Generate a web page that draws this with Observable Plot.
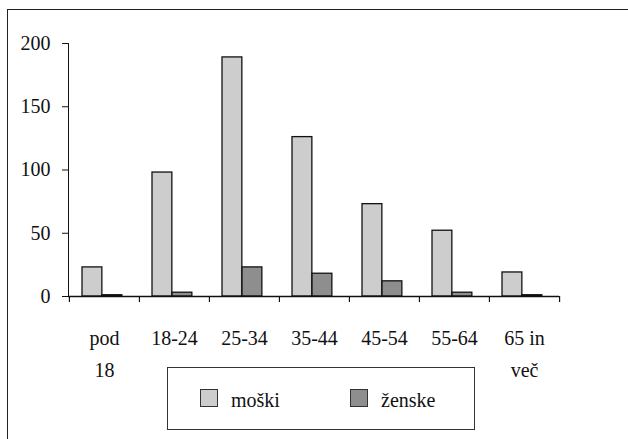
<!DOCTYPE html>
<html>
<head>
<meta charset="utf-8">
<script src="https://cdn.jsdelivr.net/npm/d3@7"></script>
<script src="https://cdn.jsdelivr.net/npm/@observablehq/plot@0.6"></script>
<style>
  html, body { margin: 0; padding: 0; background: #fff; }
  #wrap { position: relative; width: 628px; height: 439px; overflow: hidden; background: #fff; font-family: "Liberation Serif", "DejaVu Serif", serif; }
  #frame { position: absolute; left: 7px; top: 9px; width: 700px; height: 500px; border-left: 1.5px solid #222; border-top: 1.5px solid #222; }
  #chart { position: absolute; left: 0; top: 0; }
  #legend { position: absolute; left: 167px; top: 367px; width: 308px; height: 63px; border: 1.3px solid #333; box-sizing: border-box; font-size: 20px; color: #111; }
  .sw { position: absolute; top: 21px; width: 18px; height: 18px; border: 1px solid #333; box-sizing: border-box; }
  .lt { position: absolute; top: 22px; line-height: 20px; white-space: nowrap; }
</style>
</head>
<body>
<div id="wrap">
  <div id="frame"></div>
  <div id="chart"></div>
  <div id="legend"></div>
</div>
<script>
const categories = ["pod 18", "18-24", "25-34", "35-44", "45-54", "55-64", "65 in več"];
const tickLabels = ["pod\n18", "18-24", "25-34", "35-44", "45-54", "55-64", "65 in\nveč"];
const series = ["moški", "ženske"];
const moski = [23, 98, 189, 126, 73, 52, 19];
const zenske = [1, 3, 23, 18, 12, 3, 1];
const yTicks = [0, 50, 100, 150, 200];
const colors = ["#cdcdcd", "#8e8e8e"];

const data = [];
categories.forEach((c, i) => {
  data.push({category: c, series: series[0], value: moski[i]});
  data.push({category: c, series: series[1], value: zenske[i]});
});

const W = 628, H = 372, mL = 68, mR = 69, mT = 43, mB = 76;
const step = (W - mL - mR) / categories.length;

const chart = Plot.plot({
  width: W, height: H,
  marginLeft: mL, marginRight: mR, marginTop: mT, marginBottom: mB,
  x: {domain: categories, padding: 0, axis: null},
  y: {domain: [0, 200], ticks: yTicks, tickSize: 6, tickPadding: 12, label: null, line: true},
  color: {domain: series, range: colors},
  style: {fontFamily: "Liberation Serif", fontSize: "20px", color: "#111", background: "transparent", overflow: "visible"},
  marks: [
    Plot.barY(data.filter(d => d.series === series[0]), {
      x: "category", y: "value", fill: "series", stroke: "#111", strokeWidth: 1.3,
      insetLeft: 13, insetRight: step - 33
    }),
    Plot.barY(data.filter(d => d.series === series[1]), {
      x: "category", y: "value", fill: "series", stroke: "#111", strokeWidth: 1.3,
      insetLeft: 33, insetRight: step - 53
    }),
    Plot.ruleY([0], {stroke: "#111", strokeWidth: 1.3}),
    Plot.ruleX(categories, {x: d => d, y1: 0, y2: 0, insetBottom: -6, dx: -step / 2, stroke: "#111", strokeWidth: 1.2}),
    Plot.ruleX(categories.slice(-1), {x: d => d, y1: 0, y2: 0, insetBottom: -6, dx: step / 2, stroke: "#111", strokeWidth: 1.2}),
    Plot.text(categories, {
      x: d => d, frameAnchor: "bottom", dy: 26, lineAnchor: "top", lineHeight: 1.6,
      text: (d, i) => tickLabels[i], fill: "#111", fontSize: 20
    })
  ]
});
document.getElementById("chart").appendChild(chart);

const legend = document.getElementById("legend");
const lx = [32, 182];
series.forEach((s, i) => {
  const sw = document.createElement("div");
  sw.className = "sw";
  sw.style.left = lx[i] + "px";
  sw.style.background = colors[i];
  const t = document.createElement("span");
  t.className = "lt";
  t.style.left = (lx[i] + 31) + "px";
  t.textContent = s;
  legend.appendChild(sw);
  legend.appendChild(t);
});
</script>
</body>
</html>
